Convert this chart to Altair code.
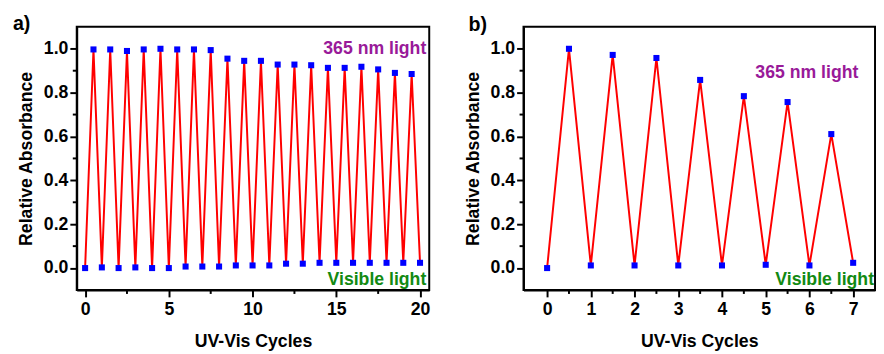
import altair as alt
import pandas as pd

# ---- data ----
a_trough_x = list(range(0, 21))
a_trough_y = [0.000, 0.003, 0.000, 0.003, 0.000, 0.000, 0.007, 0.007, 0.007, 0.012, 0.012,
              0.012, 0.020, 0.020, 0.024, 0.024, 0.024, 0.024, 0.024, 0.024, 0.024]
a_peak_x = [i + 0.5 for i in range(0, 20)]
a_peak_y = [0.997, 0.997, 0.990, 0.997, 1.000, 0.997, 0.997, 0.994, 0.955, 0.945,
            0.945, 0.928, 0.928, 0.925, 0.913, 0.913, 0.918, 0.906, 0.890, 0.885]

b_trough_x = list(range(0, 8))
b_trough_y = [0.000, 0.012, 0.012, 0.012, 0.012, 0.015, 0.012, 0.024]
b_peak_x = [i + 0.5 for i in range(0, 7)]
b_peak_y = [1.000, 0.972, 0.958, 0.858, 0.784, 0.757, 0.611]

y_major = [0.0, 0.2, 0.4, 0.6, 0.8, 1.0]
y_minor = [0.1, 0.3, 0.5, 0.7, 0.9]
a_x_major = [0, 5, 10, 15, 20]
a_x_minor = [2.5, 7.5, 12.5, 17.5]
b_x_major = [0, 1, 2, 3, 4, 5, 6, 7]
b_x_minor = [0.5, 1.5, 2.5, 3.5, 4.5, 5.5, 6.5]

FONT = "Liberation Sans"
PURPLE = "#991a99"
GREEN = "#128a12"
SW = 2


def make_df(tx, ty, px, py):
    df = pd.DataFrame({"x": list(tx) + list(px), "y": list(ty) + list(py)})
    return df.sort_values("x").reset_index(drop=True)


def panel(df, xdom, xmaj, xmin, tag, w, h, uv_pos, vis_pos):
    xs = alt.Scale(domain=xdom, nice=False, zero=False)
    ys = alt.Scale(domain=[-0.1, 1.1], nice=False, zero=False)
    base = alt.Chart(df)
    line = base.mark_line(color="#ff0000", strokeWidth=2).encode(
        x=alt.X("x:Q", scale=xs,
                axis=alt.Axis(values=xmaj, format="d", title="UV-Vis Cycles", orient="bottom",
                              tickSize=7, labelPadding=4, titlePadding=15, grid=False,
                              domainColor="#000000", domainWidth=SW,
                              tickColor="#000000", tickWidth=SW)),
        y=alt.Y("y:Q", scale=ys,
                axis=alt.Axis(values=y_major, format=".1f", title="Relative Absorbance",
                              orient="left", tickSize=7, labelPadding=2, titlePadding=8,
                              grid=False, domainColor="#000000", domainWidth=SW,
                              tickColor="#000000", tickWidth=SW)),
    )
    pts = base.mark_square(color="#0000ff", size=38, opacity=1).encode(
        x="x:Q", y="y:Q")
    xminor_df = pd.DataFrame({"x": xmin})
    yminor_df = pd.DataFrame({"y": y_minor})
    xm = alt.Chart(xminor_df).mark_rule(color="#000000", strokeWidth=SW).encode(
        x="x:Q", y=alt.value(h), y2=alt.value(h + 4))
    ym = alt.Chart(yminor_df).mark_rule(color="#000000", strokeWidth=SW).encode(
        y="y:Q", x=alt.value(0), x2=alt.value(-4))
    one = pd.DataFrame({"k": [0]})
    uv = alt.Chart(one).mark_text(text="365 nm light", color=PURPLE, font=FONT, fontSize=18,
                                  fontWeight="bold", align="right", baseline="middle").encode(
        x=alt.value(uv_pos[0]), y=alt.value(uv_pos[1]))
    vis = alt.Chart(one).mark_text(text="Visible light", color=GREEN, font=FONT, fontSize=18,
                                   fontWeight="bold", align="right", baseline="middle").encode(
        x=alt.value(vis_pos[0]), y=alt.value(vis_pos[1]))
    lab = alt.Chart(one).mark_text(text=tag[0], color="black", font=FONT, fontSize=20,
                                   fontWeight="bold", align="left", baseline="alphabetic").encode(
        x=alt.value(tag[1]), y=alt.value(tag[2]))
    return alt.layer(line, pts, xm, ym, uv, vis, lab).properties(
        width=w, height=h, view=alt.ViewBackground(stroke="#000000", strokeWidth=SW))


df_a = make_df(a_trough_x, a_trough_y, a_peak_x, a_peak_y)
df_b = make_df(b_trough_x, b_trough_y, b_peak_x, b_peak_y)

pa = panel(df_a, [-0.5, 20.55], a_x_major, a_x_minor, ("a)", -65, 3), 359, 268,
           (356, 23), (356, 258))
pb = panel(df_b, [-0.54, 7.5], b_x_major, b_x_minor, ("b)", -56, 4), 358, 268,
           (341, 47), (357, 258))

chart = alt.hconcat(pa, pb, spacing=32).properties(
    padding={"left": 4, "top": 2, "right": 0, "bottom": 0}
).configure_axis(
    labelFont=FONT, labelFontSize=18, labelFontWeight="bold", labelColor="#000000",
    titleFont=FONT, titleFontSize=18, titleFontWeight="bold", titleColor="#000000",
)

chart.save("out.html", embed_options={"renderer": "svg", "actions": False})
